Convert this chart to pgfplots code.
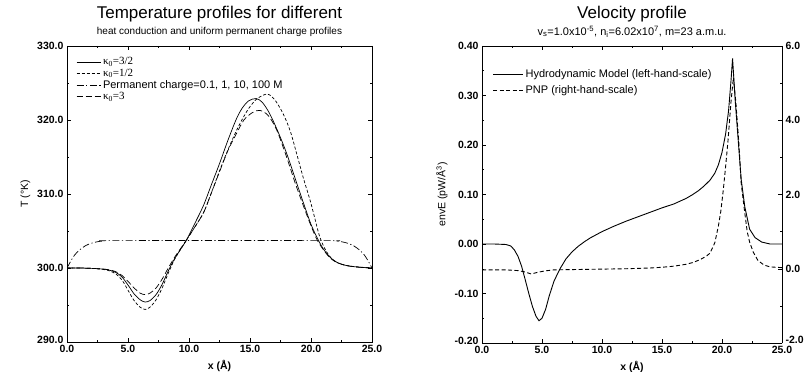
\documentclass[border=0pt]{standalone}
\usepackage{fontspec}
\setmainfont{Liberation Sans}
\newfontfamily\serif{Liberation Serif}
\usepackage{pgfplots}
\pgfplotsset{compat=1.18}
\begin{document}
\begin{tikzpicture}
\pgfplotsset{
 common/.style={scale only axis, anchor=south west,
   /pgf/number format/assume math mode=true,
   tick label style={font=\bfseries\fontsize{10.5}{12}\selectfont},
   label style={font=\fontsize{10.5}{12}\selectfont},
   xlabel style={font=\bfseries\fontsize{10.5}{12}\selectfont},
   major tick length=4pt, minor tick length=2pt,
   axis line style={line width=0.7pt},
   tick style={line width=0.5pt, black},
   xmin=0,xmax=25, xtick={0,5,10,15,20,25}, minor x tick num=1,
   xticklabel style={/pgf/number format/fixed,/pgf/number format/fixed zerofill,/pgf/number format/precision=1},
   legend cell align=left,
   legend style={draw=none, fill=none, font=\fontsize{11}{12}\selectfont},
 }
}
% ---------------- left plot ----------------
\begin{axis}[common, at={(67pt,30pt)}, width=305pt, height=296pt,
  ymin=290, ymax=330, ytick={290,300,310,320,330}, minor y tick num=1,
  yticklabels={\raisebox{4pt}{290.0},300.0,310.0,320.0,330.0},
  xlabel={x (Å)}, ylabel={T (°K)},
  legend style={at={(0.02,0.975)}, anchor=north west, row sep=-1.5pt},
  legend image code/.code={\draw[#1] (0pt,0pt) -- (24pt,0pt);},
  every axis plot/.append style={line width=0.7pt, black, smooth}]
\addplot[solid] coordinates {
(0,300.0)(1,300.0)(2,299.95)(3,299.85)(3.5,299.7)(4,299.4)(4.5,298.8)(5,297.7)(5.5,296.5)(6,295.7)(6.4,295.4)(6.8,295.6)(7.3,296.4)(7.8,297.8)(8.3,299.6)(8.8,301.2)(9.3,302.5)(9.8,303.8)(10.5,306.1)(11.2,308.5)(11.8,311.1)(12.5,314.1)(13.2,317.3)(13.9,320.2)(14.4,321.7)(14.9,322.6)(15.5,322.9)(16.0,322.4)(16.6,320.9)(17.3,318.4)(18.0,315.5)(18.7,312.1)(19.4,308.7)(20.0,305.9)(20.5,304.1)(21.0,302.6)(21.6,301.4)(22.2,300.7)(23,300.3)(24,300.1)(25,300.0)};
\addlegendentry{{\serif κ\textsubscript{0}=3/2}}
\addplot[dash pattern=on 3pt off 2pt] coordinates {
(0,300)(1,300)(2,299.95)(3,299.8)(3.5,299.6)(4,299.2)(4.5,298.4)(5,297.0)(5.5,295.6)(6,294.7)(6.4,294.4)(6.8,294.7)(7.3,295.7)(7.8,297.3)(8.3,299.3)(8.8,301.1)(9.3,302.5)(9.8,303.8)(10.5,305.6)(11.2,307.5)(11.8,310.0)(12.5,313.1)(13.2,316.0)(13.9,318.6)(14.5,320.5)(15.0,321.8)(15.6,322.9)(16.4,323.5)(17.0,322.8)(17.7,320.9)(18.3,318.5)(18.8,315.6)(19.4,312.0)(19.9,309.3)(20.3,306.8)(20.7,304.3)(21.2,302.4)(21.8,301.1)(22.5,300.5)(23.5,300.2)(25,300)};
\addlegendentry{{\serif κ\textsubscript{0}=1/2}}
\addplot[dash pattern=on 7pt off 2.5pt on 1.2pt off 2.5pt] coordinates {
(0,300)(0.3,300.9)(0.6,301.7)(1.0,302.4)(1.5,303.0)(2.0,303.35)(2.5,303.55)(3.0,303.65)(4.0,303.7)(21,303.7)(22,303.65)(22.5,303.55)(23.0,303.35)(23.5,303.0)(24.0,302.4)(24.4,301.7)(24.7,300.9)(25,300)};
\addlegendentry{Permanent charge=0.1, 1, 10, 100 M}
\addplot[dash pattern=on 6pt off 3pt] coordinates {
(0,300)(1,300)(2,299.95)(3,299.85)(3.5,299.75)(4,299.5)(4.5,299.0)(5,298.2)(5.5,297.3)(6,296.6)(6.4,296.4)(6.8,296.6)(7.3,297.3)(7.8,298.5)(8.3,300.0)(8.8,301.4)(9.3,302.6)(9.8,303.8)(10.5,305.6)(11.2,307.5)(11.8,310.0)(12.5,313.0)(13.2,315.9)(13.9,318.2)(14.5,320.0)(15.2,321.0)(15.8,321.3)(16.5,320.6)(17.2,318.6)(18.0,315.0)(18.7,311.5)(19.4,308.3)(20.0,305.7)(20.5,303.8)(21.0,302.5)(21.6,301.3)(22.2,300.7)(23,300.3)(24,300.1)(25,300)};
\addlegendentry{{\serif κ\textsubscript{0}=3}}
\end{axis}
% ---------------- right plot ----------------
\begin{axis}[common, at={(482pt,29pt)}, width=300pt, height=297pt,
  ymin=-0.2, ymax=0.4, ytick={-0.2,-0.1,0,0.1,0.2,0.3,0.4}, minor y tick num=1,
  yticklabels={\raisebox{4pt}{-0.20},-0.10,0.00,0.10,0.20,0.30,0.40},
  axis y line*=left,
  xlabel={x (Å)}, ylabel={envE (pW/Å\textsuperscript{3})},
  legend style={at={(0.025,0.935)}, anchor=north west, row sep=3pt},
  legend image code/.code={\draw[#1] (0pt,0pt) -- (30pt,0pt);}]
\addplot[black, line width=0.9pt] coordinates {
(0,0.0)(1,0.0)(2,-0.001)(2.4,-0.004)(2.7,-0.012)(3.0,-0.025)(3.3,-0.045)(3.6,-0.072)(3.9,-0.100)(4.2,-0.126)(4.5,-0.146)(4.75,-0.155)(5.0,-0.150)(5.3,-0.132)(5.6,-0.105)(6.0,-0.075)(6.5,-0.050)(7.0,-0.030)(7.5,-0.016)(8.0,-0.005)(8.5,0.004)(9.0,0.012)(10,0.025)(11,0.036)(12,0.046)(13,0.055)(14,0.064)(15,0.073)(16,0.081)(17,0.092)(17.5,0.099)(18,0.107)(18.5,0.117)(19,0.129)(19.4,0.143)(19.7,0.160)(20.0,0.185)(20.3,0.222)(20.55,0.27)(20.75,0.33)(20.88,0.375)(21.1,0.29)(21.35,0.21)(21.6,0.13)(21.9,0.075)(22.3,0.03)(22.75,0.013)(23.3,0.004)(24,0.0)(25,0.0)};
\addlegendentry{Hydrodynamic Model (left-hand-scale)}
\addlegendimage{black, line width=0.9pt, dash pattern=on 4pt off 2.5pt}
\addlegendentry{PNP (right-hand-scale)}
\end{axis}
\begin{axis}[common, at={(482pt,29pt)}, width=300pt, height=297pt,
  ymin=-2, ymax=6, ytick={-2,0,2,4,6}, minor y tick num=1,
  yticklabels={\raisebox{6pt}{-2.0},0.0,2.0,4.0,6.0},
  axis y line*=right, axis x line=none]
\addplot[black, line width=0.9pt, dash pattern=on 4pt off 2.5pt] coordinates {
(0,-0.03)(2,-0.03)(3,-0.05)(3.5,-0.08)(4.1,-0.14)(4.6,-0.10)(5.2,-0.06)(6,-0.03)(8,-0.02)(10,-0.01)(12,0.0)(14,0.02)(15,0.04)(16,0.07)(17,0.12)(17.6,0.17)(18.2,0.25)(18.7,0.34)(19.0,0.42)(19.4,0.7)(19.7,1.15)(19.9,1.55)(20.1,2.1)(20.3,2.75)(20.5,3.45)(20.75,4.5)(20.95,5.15)(21.15,4.5)(21.4,3.4)(21.6,2.3)(21.9,1.5)(22.1,1.0)(22.3,0.72)(22.6,0.45)(23.0,0.22)(23.5,0.10)(24,0.05)(25,0.03)};
\end{axis}
% ---------------- titles ----------------
\node[font=\fontsize{17}{18}\selectfont] at (219.5pt,358pt) {Temperature profiles for different};
\node[font=\fontsize{10}{12}\selectfont] at (219.5pt,340.5pt) {heat conduction and uniform permanent charge profiles};
\node[font=\fontsize{17}{18}\selectfont] at (632pt,358pt) {Velocity profile};
\node[font=\fontsize{11}{12}\selectfont] at (632pt,340.5pt) {v\textsubscript{s}=1.0x10\textsuperscript{-5}, n\textsubscript{i}=6.02x10\textsuperscript{7}, m=23 a.m.u.};
\pgfresetboundingbox
\useasboundingbox (0pt,0pt) rectangle (811pt,372pt);
\end{tikzpicture}
\end{document}
